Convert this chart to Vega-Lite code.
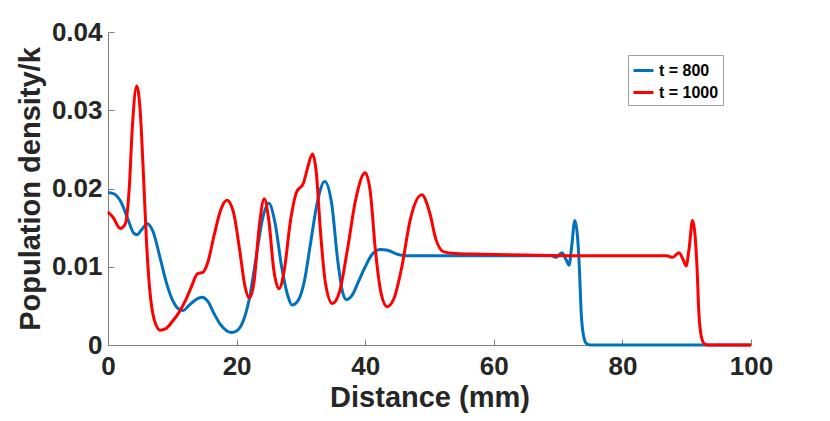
{
  "$schema": "https://vega.github.io/schema/vega-lite/v6.json",
  "width": 643,
  "height": 313,
  "autosize": {"type": "none"},
  "padding": {"left": 108, "top": 32, "right": 79, "bottom": 76},
  "config": {
    "view": {"stroke": null},
    "font": "Liberation Sans",
    "axis": {
      "grid": false,
      "domainColor": "#808080",
      "domainWidth": 1,
      "tickColor": "#808080",
      "tickSize": -6,
      "labelFlush": false,
      "labelFont": "Liberation Sans",
      "labelFontSize": 26,
      "labelFontWeight": "bold",
      "labelColor": "#262626",
      "titleFont": "Liberation Sans",
      "titleFontSize": 29,
      "titleFontWeight": "bold",
      "titleColor": "#262626"
    }
  },
  "data": {
    "values": [
      {"x": 0, "y": 0.0195, "series": "t = 800"},
      {"x": 1, "y": 0.0193, "series": "t = 800"},
      {"x": 2, "y": 0.0183, "series": "t = 800"},
      {"x": 3, "y": 0.0163, "series": "t = 800"},
      {"x": 4, "y": 0.0143, "series": "t = 800"},
      {"x": 4.5, "y": 0.0141, "series": "t = 800"},
      {"x": 5.2, "y": 0.0147, "series": "t = 800"},
      {"x": 6.1, "y": 0.0155, "series": "t = 800"},
      {"x": 7, "y": 0.0145, "series": "t = 800"},
      {"x": 8, "y": 0.0115, "series": "t = 800"},
      {"x": 9, "y": 0.0082, "series": "t = 800"},
      {"x": 10, "y": 0.0058, "series": "t = 800"},
      {"x": 11, "y": 0.0046, "series": "t = 800"},
      {"x": 11.7, "y": 0.0044, "series": "t = 800"},
      {"x": 12.5, "y": 0.005, "series": "t = 800"},
      {"x": 13.5, "y": 0.0057, "series": "t = 800"},
      {"x": 14.6, "y": 0.0061, "series": "t = 800"},
      {"x": 15.5, "y": 0.0056, "series": "t = 800"},
      {"x": 16.5, "y": 0.004, "series": "t = 800"},
      {"x": 17.5, "y": 0.0026, "series": "t = 800"},
      {"x": 18.5, "y": 0.0018, "series": "t = 800"},
      {"x": 19.2, "y": 0.0016, "series": "t = 800"},
      {"x": 20, "y": 0.0018, "series": "t = 800"},
      {"x": 21, "y": 0.003, "series": "t = 800"},
      {"x": 22, "y": 0.006, "series": "t = 800"},
      {"x": 23, "y": 0.011, "series": "t = 800"},
      {"x": 24, "y": 0.016, "series": "t = 800"},
      {"x": 25, "y": 0.0181, "series": "t = 800"},
      {"x": 26, "y": 0.0155, "series": "t = 800"},
      {"x": 27, "y": 0.01, "series": "t = 800"},
      {"x": 28, "y": 0.0062, "series": "t = 800"},
      {"x": 28.6, "y": 0.0051, "series": "t = 800"},
      {"x": 29.5, "y": 0.0056, "series": "t = 800"},
      {"x": 30.5, "y": 0.008, "series": "t = 800"},
      {"x": 31.5, "y": 0.013, "series": "t = 800"},
      {"x": 32.5, "y": 0.018, "series": "t = 800"},
      {"x": 33.7, "y": 0.0209, "series": "t = 800"},
      {"x": 34.8, "y": 0.018, "series": "t = 800"},
      {"x": 35.7, "y": 0.011, "series": "t = 800"},
      {"x": 36.5, "y": 0.0067, "series": "t = 800"},
      {"x": 37.1, "y": 0.0058, "series": "t = 800"},
      {"x": 38, "y": 0.0064, "series": "t = 800"},
      {"x": 39, "y": 0.0082, "series": "t = 800"},
      {"x": 40, "y": 0.01, "series": "t = 800"},
      {"x": 41, "y": 0.0115, "series": "t = 800"},
      {"x": 42.3, "y": 0.0122, "series": "t = 800"},
      {"x": 43.5, "y": 0.0121, "series": "t = 800"},
      {"x": 45, "y": 0.0116, "series": "t = 800"},
      {"x": 46.5, "y": 0.0114, "series": "t = 800"},
      {"x": 50, "y": 0.0114, "series": "t = 800"},
      {"x": 60, "y": 0.0114, "series": "t = 800"},
      {"x": 69, "y": 0.0114, "series": "t = 800"},
      {"x": 69.7, "y": 0.0112, "series": "t = 800"},
      {"x": 70.6, "y": 0.0118, "series": "t = 800"},
      {"x": 71.3, "y": 0.0108, "series": "t = 800"},
      {"x": 71.7, "y": 0.0102, "series": "t = 800"},
      {"x": 72.1, "y": 0.0125, "series": "t = 800"},
      {"x": 72.6, "y": 0.0159, "series": "t = 800"},
      {"x": 73, "y": 0.014, "series": "t = 800"},
      {"x": 73.3, "y": 0.01, "series": "t = 800"},
      {"x": 73.6, "y": 0.004, "series": "t = 800"},
      {"x": 74, "y": 0.001, "series": "t = 800"},
      {"x": 74.5, "y": 0.0001, "series": "t = 800"},
      {"x": 75, "y": 0, "series": "t = 800"},
      {"x": 100, "y": 0, "series": "t = 800"},
      {"x": 0, "y": 0.017, "series": "t = 1000"},
      {"x": 0.8, "y": 0.0163, "series": "t = 1000"},
      {"x": 1.9, "y": 0.0149, "series": "t = 1000"},
      {"x": 2.7, "y": 0.0155, "series": "t = 1000"},
      {"x": 3.3, "y": 0.02, "series": "t = 1000"},
      {"x": 3.8, "y": 0.028, "series": "t = 1000"},
      {"x": 4.46, "y": 0.0331, "series": "t = 1000"},
      {"x": 5, "y": 0.03, "series": "t = 1000"},
      {"x": 5.5, "y": 0.022, "series": "t = 1000"},
      {"x": 6, "y": 0.013, "series": "t = 1000"},
      {"x": 6.5, "y": 0.007, "series": "t = 1000"},
      {"x": 7.2, "y": 0.0032, "series": "t = 1000"},
      {"x": 8.1, "y": 0.0019, "series": "t = 1000"},
      {"x": 9, "y": 0.0021, "series": "t = 1000"},
      {"x": 10, "y": 0.003, "series": "t = 1000"},
      {"x": 11, "y": 0.0041, "series": "t = 1000"},
      {"x": 12, "y": 0.0056, "series": "t = 1000"},
      {"x": 13, "y": 0.0075, "series": "t = 1000"},
      {"x": 13.9, "y": 0.0091, "series": "t = 1000"},
      {"x": 14.8, "y": 0.0093, "series": "t = 1000"},
      {"x": 15.5, "y": 0.0105, "series": "t = 1000"},
      {"x": 16.5, "y": 0.014, "series": "t = 1000"},
      {"x": 17.5, "y": 0.0172, "series": "t = 1000"},
      {"x": 18.5, "y": 0.0185, "series": "t = 1000"},
      {"x": 19.5, "y": 0.017, "series": "t = 1000"},
      {"x": 20.5, "y": 0.012, "series": "t = 1000"},
      {"x": 21.3, "y": 0.0075, "series": "t = 1000"},
      {"x": 22, "y": 0.006, "series": "t = 1000"},
      {"x": 22.7, "y": 0.008, "series": "t = 1000"},
      {"x": 23.5, "y": 0.015, "series": "t = 1000"},
      {"x": 24.3, "y": 0.0187, "series": "t = 1000"},
      {"x": 25, "y": 0.016, "series": "t = 1000"},
      {"x": 25.8, "y": 0.0095, "series": "t = 1000"},
      {"x": 26.6, "y": 0.0072, "series": "t = 1000"},
      {"x": 27.4, "y": 0.0095, "series": "t = 1000"},
      {"x": 28.4, "y": 0.016, "series": "t = 1000"},
      {"x": 29.3, "y": 0.0195, "series": "t = 1000"},
      {"x": 30.4, "y": 0.0207, "series": "t = 1000"},
      {"x": 31, "y": 0.0225, "series": "t = 1000"},
      {"x": 31.8, "y": 0.0244, "series": "t = 1000"},
      {"x": 32.4, "y": 0.022, "series": "t = 1000"},
      {"x": 33, "y": 0.015, "series": "t = 1000"},
      {"x": 33.8, "y": 0.008, "series": "t = 1000"},
      {"x": 34.9, "y": 0.0053, "series": "t = 1000"},
      {"x": 36, "y": 0.0068, "series": "t = 1000"},
      {"x": 37.2, "y": 0.012, "series": "t = 1000"},
      {"x": 38.5, "y": 0.0185, "series": "t = 1000"},
      {"x": 40, "y": 0.022, "series": "t = 1000"},
      {"x": 40.8, "y": 0.0195, "series": "t = 1000"},
      {"x": 41.6, "y": 0.012, "series": "t = 1000"},
      {"x": 42.5, "y": 0.0065, "series": "t = 1000"},
      {"x": 43.4, "y": 0.0049, "series": "t = 1000"},
      {"x": 44.5, "y": 0.006, "series": "t = 1000"},
      {"x": 45.7, "y": 0.01, "series": "t = 1000"},
      {"x": 47, "y": 0.016, "series": "t = 1000"},
      {"x": 48.8, "y": 0.0192, "series": "t = 1000"},
      {"x": 50, "y": 0.017, "series": "t = 1000"},
      {"x": 51, "y": 0.0135, "series": "t = 1000"},
      {"x": 52.2, "y": 0.0119, "series": "t = 1000"},
      {"x": 54, "y": 0.0117, "series": "t = 1000"},
      {"x": 58, "y": 0.0116, "series": "t = 1000"},
      {"x": 65, "y": 0.0115, "series": "t = 1000"},
      {"x": 75, "y": 0.0114, "series": "t = 1000"},
      {"x": 86.9, "y": 0.0114, "series": "t = 1000"},
      {"x": 87.8, "y": 0.0112, "series": "t = 1000"},
      {"x": 88.8, "y": 0.0118, "series": "t = 1000"},
      {"x": 89.5, "y": 0.0108, "series": "t = 1000"},
      {"x": 89.9, "y": 0.0101, "series": "t = 1000"},
      {"x": 90.4, "y": 0.0125, "series": "t = 1000"},
      {"x": 90.9, "y": 0.0159, "series": "t = 1000"},
      {"x": 91.3, "y": 0.014, "series": "t = 1000"},
      {"x": 91.6, "y": 0.01, "series": "t = 1000"},
      {"x": 91.9, "y": 0.004, "series": "t = 1000"},
      {"x": 92.3, "y": 0.001, "series": "t = 1000"},
      {"x": 92.8, "y": 0.0001, "series": "t = 1000"},
      {"x": 93.3, "y": 0, "series": "t = 1000"},
      {"x": 100, "y": 0, "series": "t = 1000"}
    ]
  },
  "encoding": {
    "x": {
      "field": "x",
      "type": "quantitative",
      "title": "Distance (mm)",
      "scale": {"domain": [0, 100], "nice": false},
      "axis": {"values": [0, 20, 40, 60, 80, 100], "labelPadding": 14, "titlePadding": 4}
    },
    "y": {
      "field": "y",
      "type": "quantitative",
      "title": "Population density/k",
      "scale": {"domain": [0, 0.04], "nice": false},
      "axis": {
        "values": [0, 0.01, 0.02, 0.03, 0.04],
        "labelExpr": "datum.value == 0 ? '0' : format(datum.value, '.2f')",
        "labelPadding": 12,
        "titlePadding": 6
      }
    },
    "color": {
      "field": "series",
      "type": "nominal",
      "scale": {"domain": ["t = 800", "t = 1000"], "range": ["#0072BD", "#FF0000"]},
      "legend": {
        "title": null,
        "orient": "none",
        "legendX": 520,
        "legendY": 23,
        "symbolType": "stroke",
        "symbolSize": 400,
        "symbolStrokeWidth": 3,
        "labelFont": "Liberation Sans",
        "labelFontSize": 16,
        "labelFontWeight": "bold",
        "labelColor": "#000000",
        "labelOffset": 4,
        "rowPadding": 2,
        "padding": 4,
        "fillColor": "#ffffff",
        "strokeColor": "#a0a0a0",
        "cornerRadius": 0
      }
    }
  },
  "layer": [
    {
      "transform": [{"filter": "datum.series == 't = 800'"}],
      "mark": {"type": "line", "interpolate": "monotone", "strokeWidth": 3}
    },
    {
      "transform": [{"filter": "datum.series == 't = 1000'"}],
      "mark": {"type": "line", "interpolate": "monotone", "strokeWidth": 3}
    }
  ]
}
